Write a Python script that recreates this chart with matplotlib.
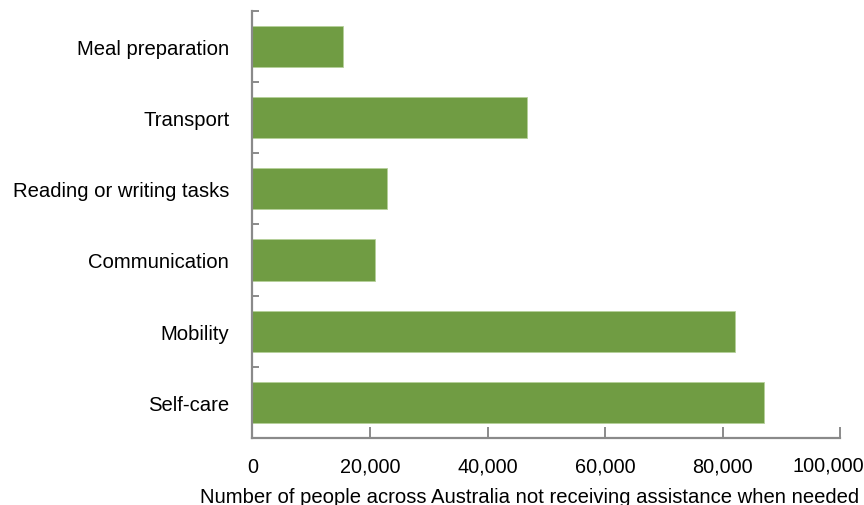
import matplotlib.pyplot as plt
from matplotlib.ticker import FixedLocator

# Data
categories = ['Meal preparation', 'Transport', 'Reading or writing tasks',
              'Communication', 'Mobility', 'Self-care']
people = [15500, 46700, 22900, 20800, 82000, 87000]
xticks = [0, 20000, 40000, 60000, 80000, 100000]

plt.rcParams['font.family'] = ['Liberation Sans', 'DejaVu Sans']

fig = plt.figure(figsize=(8.64, 5.06), dpi=100)
ax = fig.add_axes([0.292, 0.1324, 0.6808, 0.8445])

# Top category first, like the reference
ypos = list(range(len(categories)))[::-1]
ax.barh(ypos, people, height=0.58, color='#709C43', edgecolor='#b5d09a', linewidth=0.6)

ax.set_xlim(0, 100000)
ax.set_ylim(-0.5, len(categories) - 0.5)

grey = '#8a8a8a'
for side in ['top', 'right']:
    ax.spines[side].set_visible(False)
for side in ['left', 'bottom']:
    ax.spines[side].set_color(grey)
    ax.spines[side].set_linewidth(1.6)

# x ticks point inward; the last label is drawn separately, nudged left
labels = [f'{v:,}' for v in xticks]
ax.set_xticks(xticks)
ax.set_xticklabels(labels[:-1] + [''])
ax.tick_params(axis='x', direction='in', length=8, width=1.4, color=grey,
               labelsize=14.3, pad=13.5)
ax.annotate(labels[-1], xy=(xticks[-1], 0), xycoords=('data', 'axes fraction'),
            xytext=(-8.5, -12.6), textcoords='offset points',
            ha='center', va='top', fontsize=14.3)

# y: category labels without ticks, boundary ticks as minor ticks
ax.set_yticks(ypos)
ax.set_yticklabels(categories)
ax.tick_params(axis='y', which='major', length=0, labelsize=14.6, pad=16.5)
ax.yaxis.set_minor_locator(FixedLocator([i - 0.5 for i in range(len(categories) + 1)]))
ax.tick_params(axis='y', which='minor', direction='in', length=5, width=1.4, color=grey)

ax.set_xlabel('Number of people across Australia not receiving assistance when needed',
              fontsize=14.6)
ax.xaxis.set_label_coords(0.472, -0.138)
ax.xaxis.label.set_verticalalignment('center')

fig.savefig('out.png', dpi=100)
